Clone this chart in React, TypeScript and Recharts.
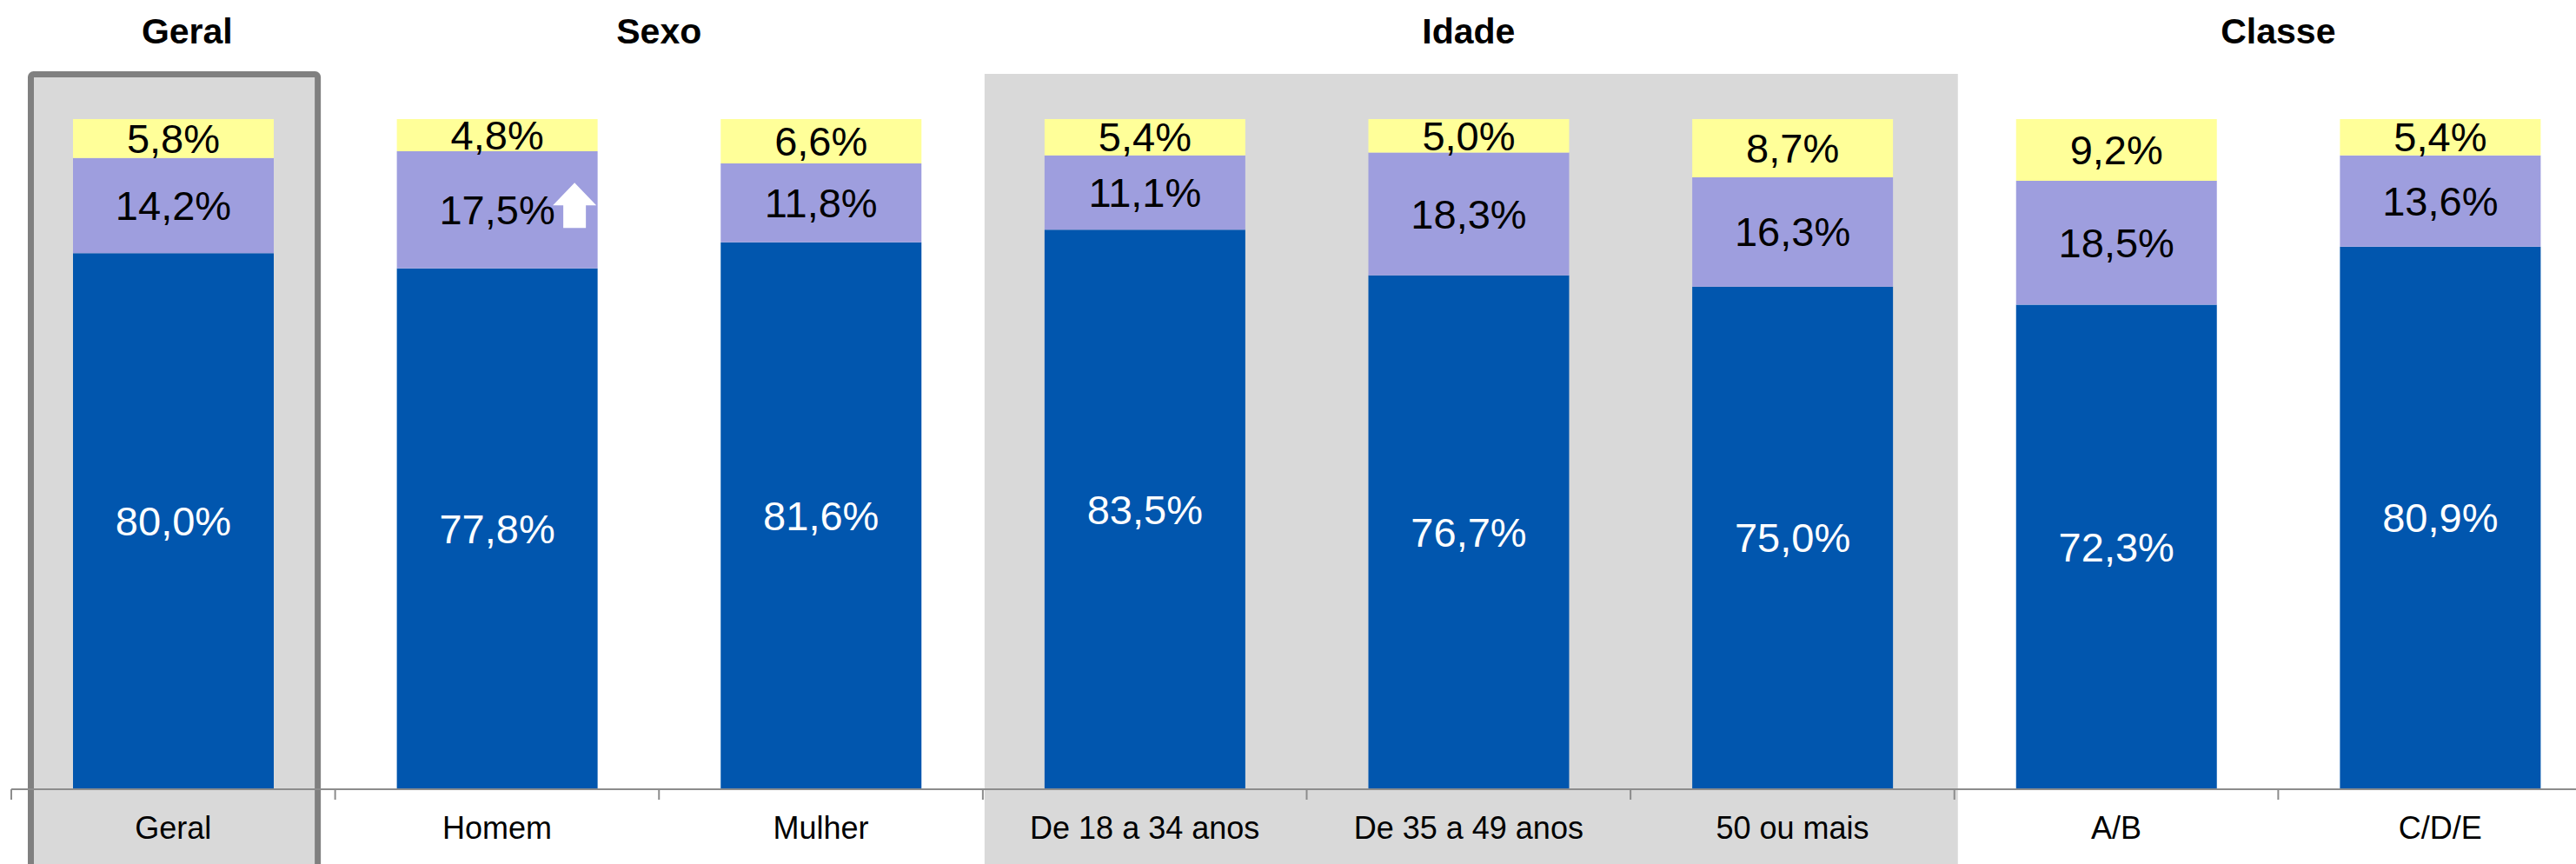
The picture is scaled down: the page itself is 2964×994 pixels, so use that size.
import { BarChart, Bar, XAxis, YAxis, LabelList, ReferenceArea } from 'recharts'

const categories = ['Geral', 'Homem', 'Mulher', 'De 18 a 34 anos', 'De 35 a 49 anos', '50 ou mais', 'A/B', 'C/D/E']
const baseValues = [80.0, 77.8, 81.6, 83.5, 76.7, 75.0, 72.3, 80.9]
const midValues = [14.2, 17.5, 11.8, 11.1, 18.3, 16.3, 18.5, 13.6]
const topValues = [5.8, 4.8, 6.6, 5.4, 5.0, 8.7, 9.2, 5.4]
// significant increase markers on the middle segment
const midUp = [false, true, false, false, false, false, false, false]

const groupTitles = ['Geral', 'Sexo', 'Idade', 'Classe']
const groupFirst = ['Geral', 'Homem', 'De 18 a 34 anos', 'A/B']
const groupLast = ['Geral', 'Mulher', '50 ou mais', 'C/D/E']
const groupShaded = [true, false, true, false]
const groupFramed = [true, false, false, false]

const CHART_W = 3000
const CHART_H = 994
const MARGIN = { top: 137, right: 6, bottom: 0, left: 13 }
const BAND = (CHART_W - MARGIN.left - MARGIN.right) / categories.length
const FONT = '"Liberation Sans", Arial, sans-serif'

const data = categories.map((cat, i) => ({
  cat,
  base: baseValues[i],
  mid: midValues[i],
  top: topValues[i],
  up: midUp[i],
}))

const fmt = (v: number) => v.toFixed(1).replace('.', ',') + '%'

const makeLabel = (color: string, withArrow = false) => (props: any) => {
  const { x, y, width, height, value, index } = props
  const cx = x + width / 2
  const cy = y + height / 2
  return (
    <g>
      <text
        x={cx}
        y={cy}
        textAnchor="middle"
        dominantBaseline="central"
        fontSize={47}
        fill={color}
        fontFamily={FONT}
      >
        {fmt(Number(value))}
      </text>
      {withArrow && data[index]?.up && (
        <path
          d={`M${cx + 89} ${cy - 31} L${cx + 114} ${cy - 5} L${cx + 102} ${cy - 5} L${cx + 102} ${cy + 21} L${cx + 76} ${cy + 21} L${cx + 76} ${cy - 5} L${cx + 64} ${cy - 5} Z`}
          fill="#ffffff"
        />
      )}
    </g>
  )
}

const makeGroupShape = (gi: number) => (props: any) => {
  const { x, y, width, height } = props
  const cx = x + width / 2
  const top = y - 52
  const bottom = y + height + 100
  return (
    <g>
      {groupShaded[gi] && !groupFramed[gi] && (
        <rect x={x + 2} y={top} width={width + 2} height={bottom - top} fill="#d9d9d9" />
      )}
      {groupFramed[gi] && (
        <rect
          x={x + 22.5}
          y={y - 51.5}
          width={width - 42.5}
          height={bottom - top}
          rx={3}
          fill="#d9d9d9"
          stroke="#808080"
          strokeWidth={7}
        />
      )}
      <text
        x={cx + (gi === 0 ? 16 : 0)}
        y={50}
        textAnchor="middle"
        fontSize={41}
        fontWeight="bold"
        fill="#000"
        fontFamily={FONT}
      >
        {groupTitles[gi]}
      </text>
    </g>
  )
}

const CategoryTick = (props: any) => {
  const { x, y, payload } = props
  const left = x - BAND / 2
  return (
    <g>
      <line x1={left} y1={y} x2={left} y2={y + 12} stroke="#8c8c8c" strokeWidth={2} />
      <text
        x={x}
        y={y + 57}
        textAnchor="middle"
        fontSize={36}
        fill="#000"
        fontFamily={FONT}
      >
        {payload.value}
      </text>
    </g>
  )
}

export default function App() {
  return (
    <div
      style={{
        position: 'absolute',
        left: 0,
        top: 0,
        width: 2964,
        height: 994,
        overflow: 'hidden',
        background: '#ffffff',
      }}
    >
      <BarChart
        width={CHART_W}
        height={CHART_H}
        data={data}
        margin={MARGIN}
        stackOffset="expand"
        style={{ fontFamily: FONT }}
      >
        {groupTitles.map((t, gi) => (
          <ReferenceArea
            key={t}
            x1={groupFirst[gi]}
            x2={groupLast[gi]}
            y1={0}
            y2={1}
            shape={makeGroupShape(gi)}
          />
        ))}
        <YAxis hide domain={[0, 1]} />
        <XAxis
          dataKey="cat"
          height={86}
          interval={0}
          tickSize={0}
          tickMargin={0}
          tickLine={false}
          axisLine={{ stroke: '#8c8c8c', strokeWidth: 2 }}
          tick={<CategoryTick />}
        />
        <Bar dataKey="base" stackId="a" fill="#0156ae" barSize={231} isAnimationActive={false}>
          <LabelList dataKey="base" content={makeLabel('#ffffff')} />
        </Bar>
        <Bar dataKey="mid" stackId="a" fill="#9e9ede" barSize={231} isAnimationActive={false}>
          <LabelList dataKey="mid" content={makeLabel('#000000', true)} />
        </Bar>
        <Bar dataKey="top" stackId="a" fill="#ffff99" barSize={231} isAnimationActive={false}>
          <LabelList dataKey="top" content={makeLabel('#000000')} />
        </Bar>
      </BarChart>
    </div>
  )
}
